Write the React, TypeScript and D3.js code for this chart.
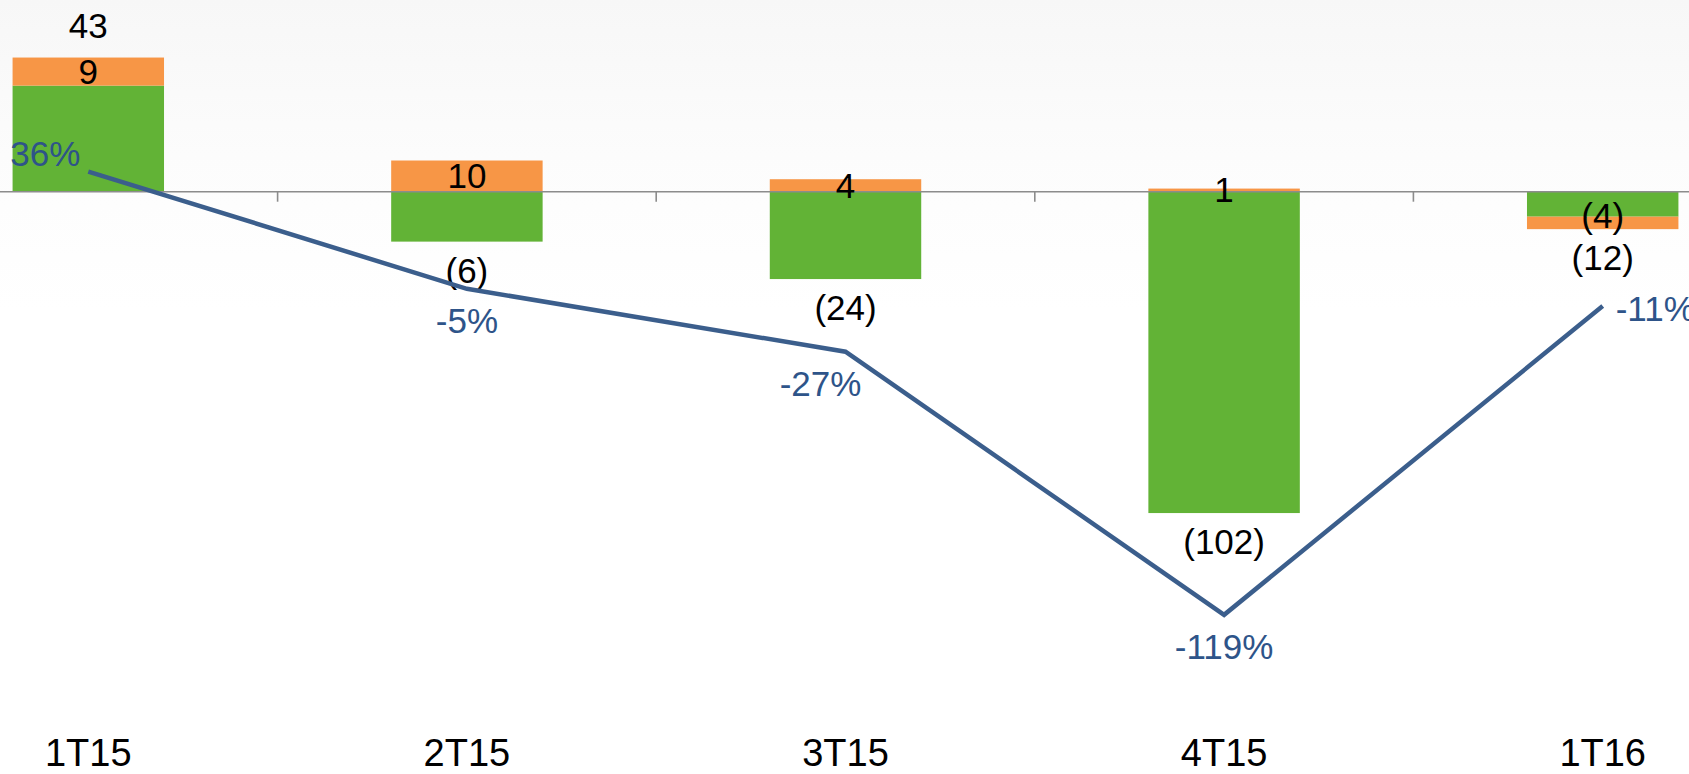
import React from "react";
import * as d3 from "d3";

const categories = ["1T15", "2T15", "3T15", "4T15", "1T16"];
const mainValues = [34, -16, -28, -103, -8];
const otherValues = [9, 10, 4, 1, -4];
const totalValues = [43, -6, -24, -102, -12];
const marginPct = [36, -5, -27, -119, -11];
const marginLabelPlacement = ["left", "below", "belowLeft", "below", "right"];

const W = 1689;
const H = 774;
const GREEN = "#62B336";
const ORANGE = "#F79646";
const LINE = "#3B5E8C";
const PCT_TEXT = "#2E5489";
const FONT = "'Liberation Sans', Arial, sans-serif";

const fmt = (v: number) => (v < 0 ? `(${Math.abs(v)})` : `${v}`);

export default function App() {
  const x = d3
    .scaleBand<string>()
    .domain(categories)
    .range([-101, 1792])
    .paddingInner(0.6)
    .paddingOuter(0.3);
  const y = d3.scaleLinear().domain([-110, 50]).range([534.9, 35.7]);
  const y2 = d3.scaleLinear().domain([-130, 50]).range([646.3, 131.5]);

  const rows = categories.map((c, i) => ({ cat: c, main: mainValues[i], other: otherValues[i] }));
  const stack = d3
    .stack<any>()
    .keys(["main", "other"])
    .offset(d3.stackOffsetDiverging);
  const series = stack(rows);
  const colors: Record<string, string> = { main: GREEN, other: ORANGE };

  const cx = (c: string) => (x(c) as number) + x.bandwidth() / 2;
  const step = x.step();
  const y0 = y(0);

  const line = d3
    .line<number>()
    .x((_, i) => cx(categories[i]))
    .y((d) => y2(d));

  const boundaries = categories.slice(1).map((c) => cx(c) - step / 2);

  return (
    <svg
      width={W}
      height={H}
      style={{ position: "absolute", left: 0, top: 0, display: "block" }}
      fontFamily={FONT}
    >
      <defs>
        <linearGradient id="bg" x1="0" y1="0" x2="0" y2="1">
          <stop offset="0" stopColor="#f7f7f7" />
          <stop offset="0.2" stopColor="#fcfcfc" />
          <stop offset="0.4" stopColor="#ffffff" />
          <stop offset="1" stopColor="#ffffff" />
        </linearGradient>
      </defs>
      <rect x={0} y={0} width={W} height={H} fill="url(#bg)" />

      {series.map((s) =>
        s.map((d, i) => {
          const top = y(Math.max(d[0], d[1]));
          const bot = y(Math.min(d[0], d[1]));
          return (
            <rect
              key={s.key + i}
              x={x(categories[i])}
              y={top}
              width={x.bandwidth()}
              height={Math.max(0, bot - top)}
              fill={colors[s.key]}
            />
          );
        })
      )}

      {/* axis */}
      <line x1={0} x2={W} y1={y0} y2={y0} stroke="#8c8c8c" strokeWidth={1.6} />
      {boundaries.map((b, i) => (
        <line key={i} x1={b} x2={b} y1={y0} y2={y0 + 10} stroke="#8c8c8c" strokeWidth={1.6} />
      ))}

      {/* orange segment labels */}
      {series[1].map((d, i) => (
        <text
          key={"o" + i}
          x={cx(categories[i])}
          y={(y(d[0]) + y(d[1])) / 2}
          dy={otherValues[i] < 0 && mainValues[i] < 0 ? "0.15em" : "0.35em"}
          textAnchor="middle"
          fontSize={35}
          fill="#000"
        >
          {fmt(otherValues[i])}
        </text>
      ))}

      {/* total labels */}
      {totalValues.map((t, i) => {
        const ys = [series[0][i][0], series[0][i][1], series[1][i][0], series[1][i][1]].map(y);
        const top = Math.min(...ys);
        const bot = Math.max(...ys);
        const ty = t >= 0 ? top - 20 : bot + 41;
        return (
          <text key={"t" + i} x={cx(categories[i])} y={ty} textAnchor="middle" fontSize={35} fill="#000">
            {fmt(t)}
          </text>
        );
      })}

      {/* margin line */}
      <path d={line(marginPct) || ""} fill="none" stroke={LINE} strokeWidth={4.5} strokeLinejoin="miter" />
      {marginPct.map((m, i) => {
        const px = cx(categories[i]);
        const py = y2(m);
        const p = marginLabelPlacement[i];
        let tx = px;
        let ty = py + 44;
        let anchor: "start" | "middle" | "end" = "middle";
        if (p === "left") {
          tx = px - 8;
          ty = py - 6;
          anchor = "end";
        } else if (p === "right") {
          tx = px + 13;
          ty = py + 15;
          anchor = "start";
        } else if (p === "belowLeft") {
          tx = px - 25;
        }
        return (
          <text key={"p" + i} x={tx} y={ty} textAnchor={anchor} fontSize={35} fill={PCT_TEXT}>
            {`${m}%`}
          </text>
        );
      })}

      {/* category labels */}
      {categories.map((c) => (
        <text key={c} x={cx(c)} y={766} textAnchor="middle" fontSize={38} fill="#000">
          {c}
        </text>
      ))}
    </svg>
  );
}
